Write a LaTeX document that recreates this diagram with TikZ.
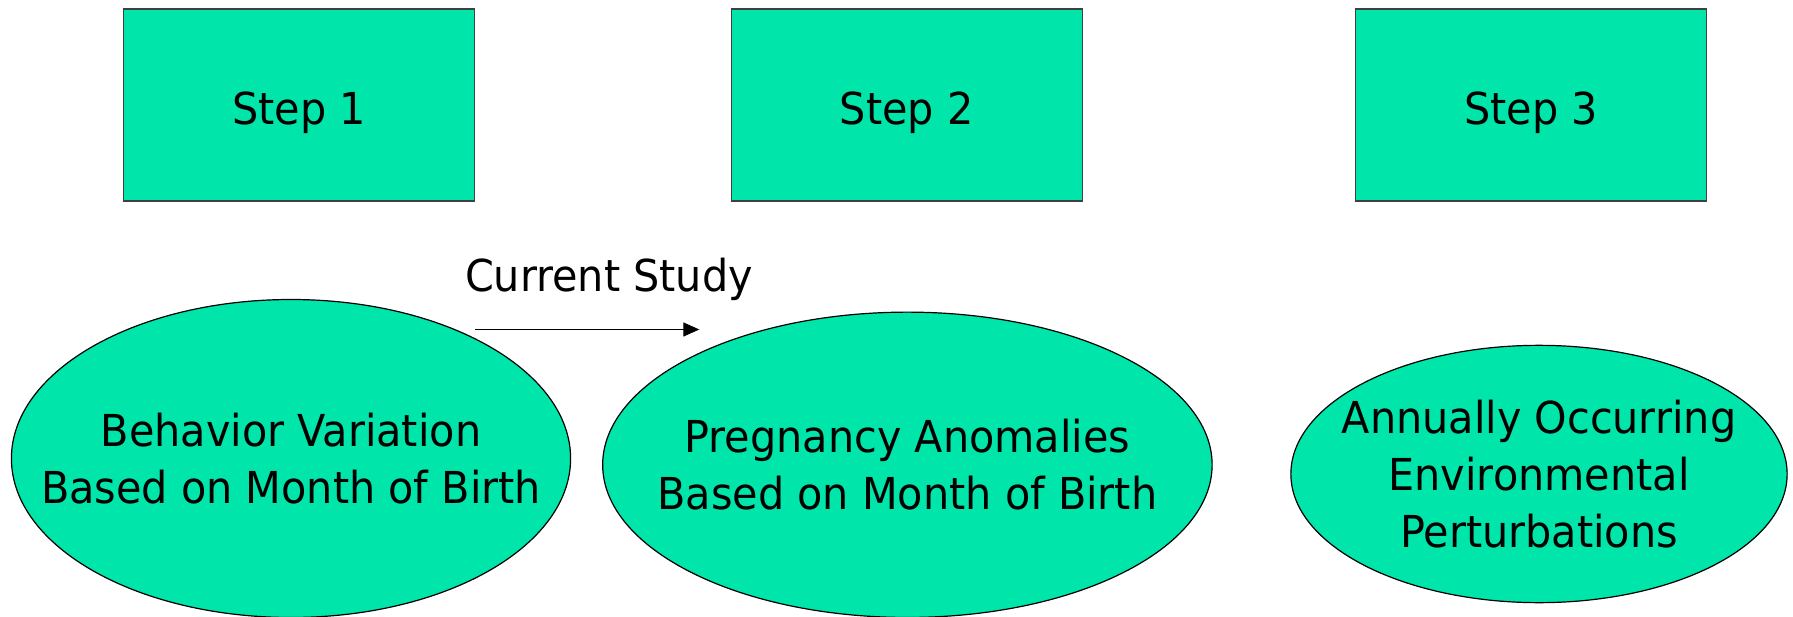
\documentclass[tikz,border=0pt]{standalone}
\usepackage{fontspec}
\setmainfont{DejaVu Sans}[FakeStretch=0.94]
\usetikzlibrary{shapes.geometric,arrows.meta}
\definecolor{stepgreen}{RGB}{0,229,170}
\begin{document}
\begin{tikzpicture}[x=0.75pt,y=-0.75pt,
  stepbox/.style={draw=black!75, line width=0.9pt, fill=stepgreen,
    minimum width=263.25pt, minimum height=144pt, inner sep=0pt,
    text height=28.5pt, text depth=0pt},
  ell/.style={ellipse, draw=black, line width=0.9pt, fill=stepgreen, inner sep=0pt},
  txt/.style={align=center, inner sep=0pt, font=\fontsize{33}{42.75}\selectfont},
  conn/.style={line width=1pt, -{Triangle[length=12pt,width=10.5pt]}}]
\useasboundingbox (0,0) rectangle (1793,617);
\node[stepbox, txt] (s1) at (299,105) {Step 1};
\node[stepbox, txt] (s2) at (906.8,105) {Step 2};
\node[stepbox, txt] (s3) at (1531,105) {Step 3};
\node[ell, minimum width=419.4pt, minimum height=238.5pt] (e1) at (291,458.5) {};
\node[ell, minimum width=457.1pt, minimum height=229pt] (e2) at (907.4,464.8) {};
\node[ell, minimum width=372.2pt, minimum height=193pt] (e3) at (1539,474) {};
\node[txt] (t1) at (e1.center) {Behavior Variation\\Based on Month of Birth};
\node[txt] (t2) at (e2.center) {Pregnancy Anomalies\\Based on Month of Birth};
\node[txt] (t3) at (e3.center) {Annually Occurring\\Environmental\\Perturbations};
\node[txt, anchor=base] (cs) at (609,291.6) {Current Study};
\coordinate (as) at (475,329.5);
\coordinate (ae) at (699.3,329.5);
\draw[conn] (as) -- (ae);
\end{tikzpicture}
\end{document}
